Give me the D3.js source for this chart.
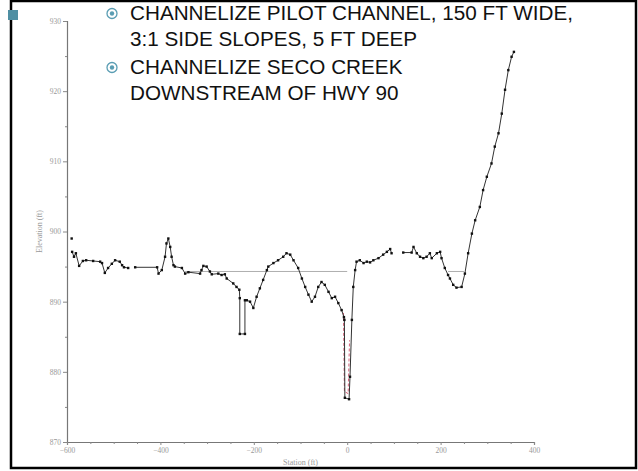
<!DOCTYPE html>
<html>
<head>
<meta charset="utf-8">
<script src="https://cdn.jsdelivr.net/npm/d3@7/dist/d3.min.js"></script>
<style>
  html, body { margin: 0; padding: 0; background: #fff; }
  svg { display: block; }
</style>
</head>
<body>
<svg id="slide" width="638" height="471"></svg>
<script>
// Bullet text
const bulletLines = [
  ["CHANNELIZE PILOT CHANNEL, 150 FT WIDE,", "3:1 SIDE SLOPES, 5 FT DEEP"],
  ["CHANNELIZE SECO CREEK", "DOWNSTREAM OF HWY 90"]
];

// Axis ticks
const stationTicks = [-600, -400, -200, 0, 200, 400];
const elevationTicks = [870, 880, 890, 900, 910, 920, 930];

// Existing ground survey, [station ft, elevation ft]; null marks a break in the survey
const groundProfile = [
  [-589, 897.1], [-585, 896.4], [-581, 896.9], [-574, 895.1], [-566, 895.8], [-559, 895.9],
  [-544, 895.8], [-529, 895.7], [-525, 895.5], [-519, 894.1], [-512, 894.8], [-504, 895.4],
  [-497, 895.9], [-487, 895.7], [-482, 895.2], [-478, 894.9], [-469, 894.8],
  null,
  [-454, 894.9], [-407, 894.9], [-404, 894.0], [-397, 894.5], [-390, 896.4], [-387, 898.3],
  [-383, 899.0], [-379, 897.8], [-376, 896.4], [-372, 895.2], [-369, 895.0], [-354, 894.8],
  [-347, 894.0], [-340, 894.2], [-315, 894.0], [-312, 894.5], [-308, 895.1], [-301, 895.0],
  [-294, 894.3], [-290, 893.9], [-276, 894.0], [-269, 893.8], [-262, 893.9], [-258, 893.3],
  [-244, 892.6], [-237, 892.1], [-231, 891.7], [-230, 890.5], [-230, 885.4], [-219, 885.4],
  [-219, 890.2], [-215, 890.2], [-208, 890.0], [-201, 889.1], [-194, 890.7], [-187, 891.9],
  [-180, 893.1], [-172, 894.5], [-169, 895.0], [-158, 895.5], [-148, 895.9], [-137, 896.4],
  [-130, 896.9], [-122, 896.7], [-115, 895.9], [-105, 894.8], [-97, 893.3], [-90, 892.1],
  [-83, 891.0], [-76, 890.0], [-69, 890.7], [-62, 892.1], [-55, 892.8], [-48, 892.4],
  [-40, 891.4], [-33, 890.5], [-26, 890.7], [-19, 889.8], [-12, 888.8], [-7, 887.8],
  [-6, 887.4], [-5, 876.3], [4, 876.1], [6, 879.3], [10, 887.4], [13, 892.1], [17, 894.5],
  [20, 895.7], [27, 895.9], [35, 895.5], [42, 895.7], [49, 895.6], [56, 895.9], [67, 896.2],
  [77, 896.7], [85, 897.1], [92, 897.5], [95, 896.9],
  null,
  [120, 897.0], [138, 897.0], [142, 897.8], [149, 896.9], [156, 896.4], [163, 896.2],
  [170, 896.4], [177, 896.9], [181, 896.2], [192, 896.9], [199, 897.1], [202, 896.2],
  [209, 894.8], [216, 893.8], [220, 893.3], [227, 892.4], [234, 892.0], [245, 892.1],
  [252, 894.0], [259, 896.9], [267, 899.7], [274, 901.6], [284, 903.5], [291, 905.9],
  [299, 907.8], [309, 909.7], [316, 912.1], [324, 914.0], [331, 916.8], [338, 920.2],
  [345, 923.0], [352, 924.9], [357, 925.6]
];

// Isolated survey shot at the left end
const looseShots = [[-590, 899.0]];

// Proposed pilot channel grade lines
const gradeLines = [
  [[-347, 894.3], [0, 894.3]],
  [[216, 894.3], [250, 894.3]]
];

// Low-flow notch shown in red
const lowFlowLine = [[-8, 888.4], [-6, 877.2], [2, 876.9], [5, 884.5]];

const svg = d3.select("#slide");

// Chart frame
const plot = { left: 67, right: 534, top: 21, bottom: 442 };

const x = d3.scaleLinear().domain([-600, 400]).range([plot.left, plot.right]);
const y = d3.scaleLinear().domain([870, 930]).range([plot.bottom, plot.top]);

const chart = svg.append("g").attr("class", "chart");
const tickColor = "#999999";
const labelFont = "Liberation Serif, DejaVu Serif, serif";

// Y axis
const yAxis = d3.axisLeft(y)
  .tickValues(elevationTicks)
  .tickSize(4)
  .tickPadding(2)
  .tickFormat(d3.format("d"));
const yMinor = d3.axisLeft(y)
  .tickValues(d3.range(875, 930, 10))
  .tickSize(2)
  .tickFormat("");

chart.append("g").attr("transform", `translate(${plot.left},0)`).call(yAxis);
chart.append("g").attr("transform", `translate(${plot.left},0)`).call(yMinor)
  .call(g => g.select(".domain").remove());

// X axis
const xAxis = d3.axisBottom(x)
  .tickValues(stationTicks)
  .tickSize(3)
  .tickPadding(3)
  .tickFormat(d3.format("d"));
const xMinor = d3.axisBottom(x)
  .tickValues(d3.range(-550, 400, 50).filter(v => v % 200 !== 0))
  .tickSize(2)
  .tickFormat("");

chart.append("g").attr("transform", `translate(0,${plot.bottom})`).call(xAxis);
chart.append("g").attr("transform", `translate(0,${plot.bottom})`).call(xMinor)
  .call(g => g.select(".domain").remove());

chart.selectAll(".domain").attr("stroke", "#777").attr("stroke-width", 1.2);
chart.selectAll(".tick line").attr("stroke", "#888");
chart.selectAll(".tick text")
  .attr("fill", tickColor)
  .attr("font-family", labelFont)
  .attr("font-size", 7.5);

// Axis titles
chart.append("text")
  .attr("transform", `translate(42,${(plot.top + plot.bottom) / 2}) rotate(-90)`)
  .attr("text-anchor", "middle")
  .attr("font-family", labelFont)
  .attr("font-size", 8)
  .attr("fill", tickColor)
  .text("Elevation (ft)");

chart.append("text")
  .attr("x", (plot.left + plot.right) / 2)
  .attr("y", 465)
  .attr("text-anchor", "middle")
  .attr("font-family", labelFont)
  .attr("font-size", 8)
  .attr("fill", tickColor)
  .text("Station (ft)");

// Grade lines
const line = d3.line()
  .defined(d => d !== null)
  .x(d => x(d[0]))
  .y(d => y(d[1]));

chart.selectAll(".grade")
  .data(gradeLines)
  .join("path")
  .attr("class", "grade")
  .attr("d", line)
  .attr("fill", "none")
  .attr("stroke", "#9a9a9a")
  .attr("stroke-width", 0.8);

// Red low-flow line
chart.append("path")
  .attr("d", line(lowFlowLine))
  .attr("fill", "none")
  .attr("stroke", "#d0506a")
  .attr("stroke-width", 0.9)
  .attr("stroke-dasharray", "3,2");

// Ground profile
chart.append("path")
  .attr("d", line(groundProfile))
  .attr("fill", "none")
  .attr("stroke", "#333")
  .attr("stroke-width", 1);

const shots = groundProfile.filter(d => d !== null).concat(looseShots);
chart.selectAll(".shot")
  .data(shots)
  .join("rect")
  .attr("class", "shot")
  .attr("x", d => x(d[0]) - 1.2)
  .attr("y", d => y(d[1]) - 1.2)
  .attr("width", 2.4)
  .attr("height", 2.4)
  .attr("fill", "#111");

// Slide border and marker square
svg.append("rect")
  .attr("x", 11).attr("y", 1)
  .attr("width", 625).attr("height", 467)
  .attr("fill", "none")
  .attr("stroke", "#000")
  .attr("stroke-width", 2.5);

svg.append("rect")
  .attr("x", 8).attr("y", 10)
  .attr("width", 10).attr("height", 10)
  .attr("fill", "#4f8fa3");

// Bullets
const teal = "#5a9db3";
const bulletTop = [20, 74];
const lineGap = 26;

const bullets = svg.append("g").attr("class", "bullets");
bulletLines.forEach((lines, i) => {
  const by = bulletTop[i];
  const g = bullets.append("g");
  g.append("circle")
    .attr("cx", 112).attr("cy", by - 6.5).attr("r", 5)
    .attr("fill", "none").attr("stroke", teal).attr("stroke-width", 1.3);
  g.append("circle")
    .attr("cx", 112).attr("cy", by - 6.5).attr("r", 2.2)
    .attr("fill", teal);
  lines.forEach((t, j) => {
    g.append("text")
      .attr("x", 130)
      .attr("y", by + j * lineGap)
      .attr("font-family", "Liberation Sans, Arial, sans-serif")
      .attr("font-size", 20.7)
      .attr("fill", "#111")
      .text(t);
  });
});
</script>
</body>
</html>
